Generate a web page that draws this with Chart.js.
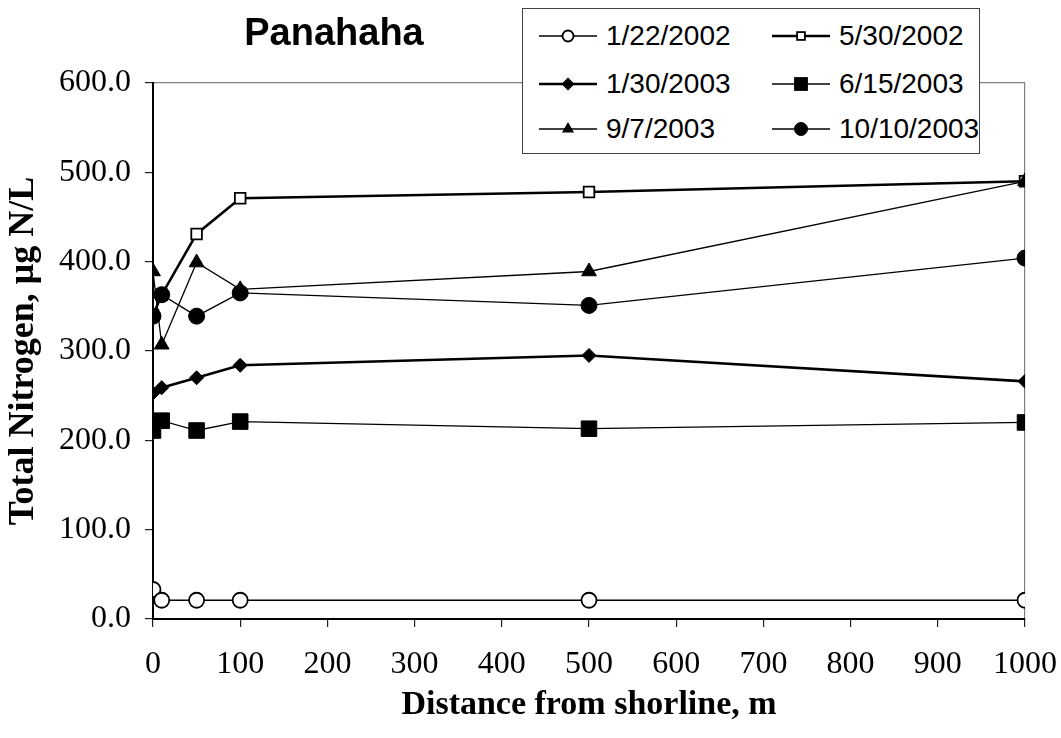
<!DOCTYPE html>
<html>
<head>
<meta charset="utf-8">
<script src="https://cdn.jsdelivr.net/npm/chart.js@4.4.1/dist/chart.umd.min.js"></script>
<style>
  html, body { margin: 0; padding: 0; background: #fff; }
  #wrap { position: relative; width: 1061px; height: 738px; overflow: hidden; }
  #chart { position: absolute; left: 0; top: 0; }
  #title {
    position: absolute; left: 234px; top: 8px; width: 200px; text-align: center;
    font: bold 38px "Liberation Sans", Arial, sans-serif; color: #000; line-height: 48px;
  }
  #legend {
    position: absolute; left: 522px; top: 8px; width: 456px; height: 144px;
    border: 1px solid #444; background: #fff;
  }
  .item { position: absolute; height: 40px; display: flex; align-items: center; }
  .item svg { display: block; }
  .item span {
    font: 28px "Liberation Sans", Arial, sans-serif; color: #000; margin-left: 9px;
    white-space: nowrap;
  }
</style>
</head>
<body>
<div id="wrap">
  <canvas id="chart" width="1061" height="738"></canvas>
  <div id="title">Panahaha</div>
  <div id="legend"></div>
</div>
<script>
// Distance from the shoreline (m) at each sampling station
const distances = [0, 10, 50, 100, 500, 1000];

// Sampling dates (one series per date)
const sampleDates = ['1/22/2002', '5/30/2002', '1/30/2003', '6/15/2003', '9/7/2003', '10/10/2003'];

// Total nitrogen, µg N/L, per station for each date
const tn_20020122 = [33, 21, 21, 21, 21, 21];
const tn_20020530 = [340, 363, 431, 471, 478, 490];
const tn_20030130 = [253, 259, 270, 284, 295, 266];
const tn_20030615 = [211, 222, 211, 221, 213, 220];
const tn_20030907 = [389, 307, 399, 369, 389, 490];
const tn_20031010 = [339, 363, 339, 365, 351, 404];

const seriesValues = [tn_20020122, tn_20020530, tn_20030130, tn_20030615, tn_20030907, tn_20031010];

// Axis range and tick step
const yMin = 0, yMax = 600, yStep = 100;
const xMin = 0, xMax = 1000, xStep = 100;

// Marker and line styling per series
const styles = [
  { shape: 'circle',   radius: 7.5, fill: '#fff', stroke: '#000', bw: 1.8, line: 1.3, legendR: 5.5 },
  { shape: 'rect',     radius: 7.5, fill: '#fff', stroke: '#000', bw: 1.8, line: 2.6, legendR: 5.5 },
  { shape: 'rectRot',  radius: 7,   fill: '#000', stroke: '#000', bw: 1,   line: 2.6, legendR: 6.5 },
  { shape: 'rect',     radius: 11,  fill: '#000', stroke: '#000', bw: 1,   line: 1.3, legendR: 9 },
  { shape: 'triangle', radius: 8.5, fill: '#000', stroke: '#000', bw: 1,   line: 1.3, legendR: 7 },
  { shape: 'circle',   radius: 8,   fill: '#000', stroke: '#000', bw: 1,   line: 1.3, legendR: 6.5 }
];

const datasets = sampleDates.map((label, i) => ({
  label,
  data: distances.map((d, j) => ({ x: d, y: seriesValues[i][j] })),
  borderColor: '#000',
  borderWidth: styles[i].line,
  pointStyle: styles[i].shape,
  pointRadius: styles[i].radius,
  pointHoverRadius: styles[i].radius,
  pointBackgroundColor: styles[i].fill,
  pointBorderColor: styles[i].stroke,
  pointBorderWidth: styles[i].bw,
  fill: false,
  tension: 0,
  order: sampleDates.length - i   // later dates are painted on top
}));

const serif = '"Liberation Serif", "Times New Roman", serif';

new Chart(document.getElementById('chart'), {
  type: 'line',
  data: { datasets },
  options: {
    responsive: false,
    animation: false,
    devicePixelRatio: 1,
    layout: { padding: { top: 83, right: 36, bottom: 0, left: 0 } },
    plugins: { legend: { display: false }, title: { display: false }, tooltip: { enabled: false } },
    scales: {
      x: {
        type: 'linear',
        min: xMin, max: xMax,
        ticks: {
          stepSize: xStep, color: '#000', padding: 18,
          font: { family: serif, size: 32 },
          maxRotation: 0, autoSkip: false,
          callback: (v) => String(v)
        },
        grid: {
          drawOnChartArea: true, drawTicks: true, tickLength: 8,
          color: (c) => (c.tick && c.tick.value === xMax ? '#808080' : 'rgba(0,0,0,0)'),
          tickColor: '#222', lineWidth: 1.2
        },
        border: { color: '#000', width: 2 },
        title: {
          display: true, text: 'Distance from shorline, m', color: '#000',
          font: { family: serif, size: 34, weight: 'bold' },
          padding: { top: 0, bottom: 12 }
        },
        afterFit: (scale) => {
          scale.height = 119;
          scale.paddingLeft = 0;
          scale.paddingRight = 0;
        }
      },
      y: {
        min: yMin, max: yMax,
        ticks: {
          stepSize: yStep, color: '#000', padding: 14,
          font: { family: serif, size: 32 },
          callback: (v) => Number(v).toFixed(1)
        },
        grid: {
          drawOnChartArea: true, drawTicks: true, tickLength: 8,
          color: (c) => (c.tick && c.tick.value === yMax ? '#808080' : 'rgba(0,0,0,0)'),
          tickColor: '#222', lineWidth: 1.2
        },
        border: { color: '#000', width: 2 },
        title: {
          display: true, text: 'Total Nitrogen, μg N/L', color: '#000',
          font: { family: serif, size: 36, weight: 'bold' },
          padding: { top: 2, bottom: 0 }
        },
        afterFit: (scale) => { scale.width = 153; }
      }
    }
  }
});

// Legend: two columns, three rows, built from the series styles
const legend = document.getElementById('legend');
function markerSvg(st) {
  const w = 58, h = 24, cx = w / 2, cy = h / 2, r = st.legendR;
  let shape = '';
  if (st.shape === 'circle') {
    shape = `<circle cx="${cx}" cy="${cy}" r="${r}" fill="${st.fill}" stroke="#000" stroke-width="${st.bw}"/>`;
  } else if (st.shape === 'rect') {
    const s = r * Math.SQRT1_2;
    shape = `<rect x="${cx - s}" y="${cy - s}" width="${2 * s}" height="${2 * s}" fill="${st.fill}" stroke="#000" stroke-width="${st.bw}"/>`;
  } else if (st.shape === 'rectRot') {
    shape = `<polygon points="${cx},${cy - r} ${cx + r},${cy} ${cx},${cy + r} ${cx - r},${cy}" fill="#000"/>`;
  } else if (st.shape === 'triangle') {
    const hw = r * Math.sqrt(3) / 2;
    shape = `<polygon points="${cx},${cy - r} ${cx + hw},${cy + r / 2} ${cx - hw},${cy + r / 2}" fill="#000"/>`;
  }
  return `<svg width="${w}" height="${h}"><line x1="0" y1="${cy}" x2="${w}" y2="${cy}" stroke="#000" stroke-width="${st.line}"/>${shape}</svg>`;
}
const colLeft = [16, 249];
const rowTop = [7, 55, 100];
sampleDates.forEach((label, i) => {
  const div = document.createElement('div');
  div.className = 'item';
  div.style.left = colLeft[i % 2] + 'px';
  div.style.top = rowTop[Math.floor(i / 2)] + 'px';
  div.innerHTML = markerSvg(styles[i]) + `<span>${label}</span>`;
  legend.appendChild(div);
});
</script>
</body>
</html>
